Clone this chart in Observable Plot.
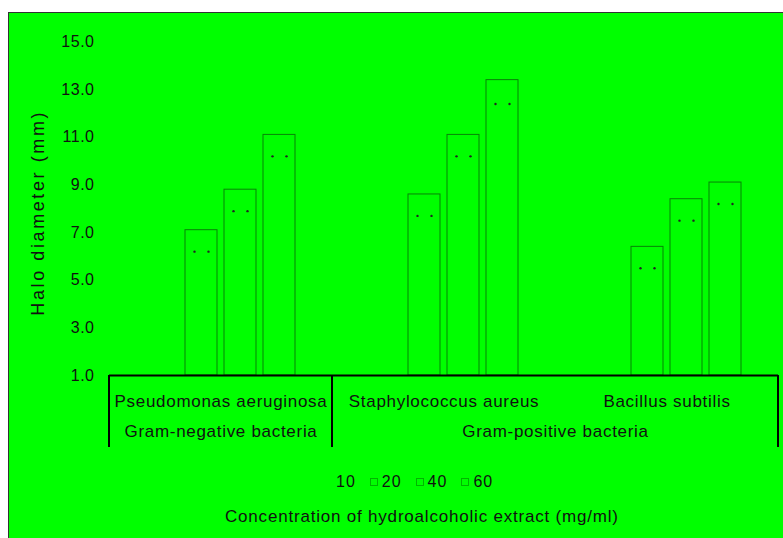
<!DOCTYPE html>
<html>
<head>
<meta charset="utf-8">
<script src="https://cdn.jsdelivr.net/npm/d3@7"></script>
<script src="https://cdn.jsdelivr.net/npm/@observablehq/plot@0.6"></script>
<style>
html, body { margin: 0; padding: 0; background: #fff; width: 783px; height: 538px; overflow: hidden; }
#frame { position: absolute; left: 8px; top: 12px; width: 774px; height: 525px; background: #00ff00;
  border-top: 1px solid #333; border-left: 1px solid #333; font-family: "Liberation Sans", Arial, sans-serif; color: #111; }
#chart { position: absolute; left: 0; top: 0; }
#chart svg text { letter-spacing: 0.7px; }
#legend { position: absolute; left: 315px; top: 459px; height: 20px; display: flex; align-items: center; font-size: 16px; letter-spacing: 1px; }
#legend .item { display: flex; align-items: center; margin-right: 14px; }
#legend .sw { width: 8px; height: 8px; margin-right: 4px; box-sizing: border-box; }
#xtitle { position: absolute; left: 216px; top: 494px; line-height: 20px; font-size: 17px; letter-spacing: 0.8px; white-space: nowrap; }
</style>
</head>
<body>
<div id="frame">
  <div id="chart"></div>
  <div id="legend"></div>
  <div id="xtitle"></div>
</div>
<script>
// ---- data ----
const bacteria = ["Pseudomonas aeruginosa", "Staphylococcus aureus", "Bacillus subtilis"];
const concentrations = ["10", "20", "40", "60"];
const halo10 = [5.3, 7.0, 5.2];
const halo20 = [7.1, 8.6, 6.4];
const halo40 = [8.8, 11.1, 8.4];
const halo60 = [11.1, 13.4, 9.1];
const err10 = [0.6, 0.8, 0.6];
const err20 = [0.9, 0.9, 0.9];
const err40 = [0.9, 0.9, 0.9];
const err60 = [0.9, 1.0, 0.9];
const gramLabels = ["Gram-negative bacteria", "Gram-positive bacteria"];
const gramMembers = [[0], [1, 2]];
const yTicks = [1, 3, 5, 7, 9, 11, 13, 15];
const yTitle = "Halo diameter (mm)";
const xTitle = "Concentration of hydroalcoholic extract (mg/ml)";

// ---- styling (not data) ----
const outline = {"10": "none", "20": "#0a400a", "40": "#0a400a", "60": "#0a400a"};
const green = "#00ff00";

const values = [halo10, halo20, halo40, halo60];
const errs = [err10, err20, err40, err60];
const rows = bacteria.flatMap((b, i) => concentrations.map((c, j) => ({
  bacterium: b, conc: c, value: values[j][i], err: errs[j][i]
})));
const outlined = rows.filter(d => outline[d.conc] !== "none");
const hidden = rows.filter(d => outline[d.conc] === "none");

const gram = gramLabels.map((label, k) => ({
  label,
  first: bacteria[gramMembers[k][0]],
  last: bacteria[gramMembers[k][gramMembers[k].length - 1]],
  n: gramMembers[k].length
}));

const plot = Plot.plot({
  width: 774,
  height: 450,
  marginLeft: 99,
  marginRight: 5,
  marginTop: 28.5,
  marginBottom: 88,
  style: {background: green, fontFamily: "Liberation Sans, Arial, sans-serif", color: "#111", overflow: "visible"},
  fx: {domain: bacteria, padding: 0},
  x: {domain: concentrations, paddingInner: 0.19, paddingOuter: 0.93, axis: null},
  y: {domain: [1, 15]},
  marks: [
    Plot.barY(hidden, {fx: "bacterium", x: "conc", y1: 1, y2: "value", fill: green}),
    Plot.barY(outlined, {fx: "bacterium", x: "conc", y1: 1, y2: "value", fill: green,
      stroke: "#0a400a", strokeWidth: 1, strokeOpacity: 0.65}),
    Plot.dot(outlined, {fx: "bacterium", x: "conc", y: d => d.value - d.err, dx: -7, r: 1.2, fill: "#222"}),
    Plot.dot(outlined, {fx: "bacterium", x: "conc", y: d => d.value - d.err, dx: 7, r: 1.2, fill: "#222"}),
    Plot.ruleY([1], {stroke: "#000", strokeWidth: 2}),
    Plot.axisY({ticks: yTicks, tickFormat: d3.format(".1f"), tickSize: 0, tickPadding: 15, fontSize: 16, label: null}),
    Plot.axisFx({anchor: "bottom", tickSize: 0, tickPadding: 19, fontSize: 17, label: null}),
    Plot.text([yTitle], {fx: () => bacteria[0], text: d => d, frameAnchor: "left", textAnchor: "middle",
      rotate: -90, dx: -71, dy: 4, fontSize: 18}),
    Plot.text(gram.filter(g => g.n === 1), {fx: "first", text: "label", frameAnchor: "bottom", textAnchor: "middle", dy: 61, fontSize: 17}),
    Plot.text(gram.filter(g => g.n === 2), {fx: "first", text: "label", frameAnchor: "bottom-right", textAnchor: "middle", dy: 61, fontSize: 17})
  ]
});

document.getElementById("chart").appendChild(plot);

// group separators drawn from the fx and y scales
const fxs = plot.scale("fx");
const ys = plot.scale("y");
const svg = d3.select(plot);
const base = ys.apply(1);
const edges = new Set();
gram.forEach(g => {
  edges.add(fxs.apply(g.first));
  edges.add(fxs.apply(g.last) + fxs.bandwidth);
});
edges.forEach(x => {
  svg.append("line").attr("x1", x).attr("x2", x).attr("y1", base).attr("y2", base + 72)
    .attr("stroke", "#000").attr("stroke-width", 2);
});
svg.selectAll("text").filter(function() { return this.textContent === yTitle; })
  .style("letter-spacing", "2.6px");
svg.selectAll('g[aria-label="y-axis tick label"] text').style("letter-spacing", "0.5px");

// legend
const legend = d3.select("#legend");
concentrations.forEach(c => {
  const item = legend.append("div").attr("class", "item");
  item.append("div").attr("class", "sw")
    .style("border", outline[c] === "none" ? "none" : "1px solid rgba(0,90,0,0.45)");
  item.append("span").text(c);
});
document.getElementById("xtitle").textContent = xTitle;
</script>
</body>
</html>
